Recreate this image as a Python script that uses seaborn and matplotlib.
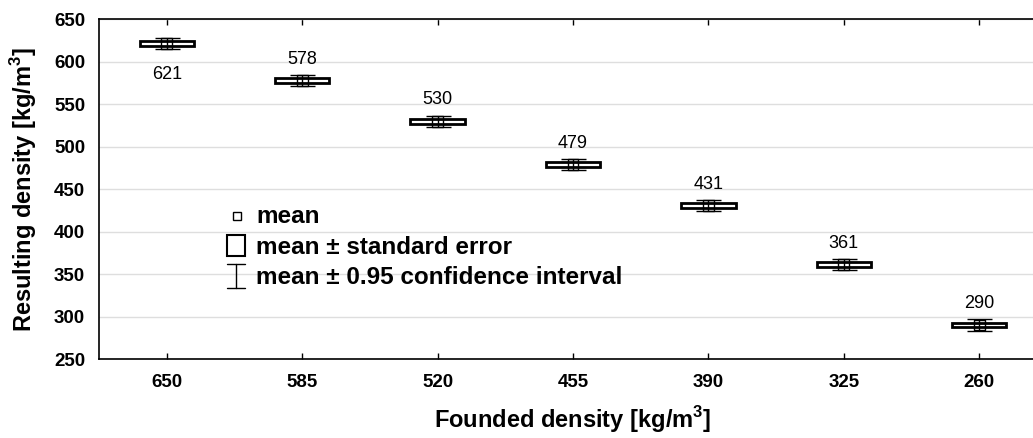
import numpy as np
import pandas as pd
import matplotlib
matplotlib.use("Agg")
import matplotlib.pyplot as plt
from matplotlib.patches import Rectangle
import seaborn as sns

# ---- data ----
categories = ["650", "585", "520", "455", "390", "325", "260"]
means = [621, 578, 530, 479, 431, 361, 290]
std_err = [2.8, 2.8, 2.8, 2.8, 2.8, 2.8, 2.8]
ci95 = [6.5, 6.5, 6.5, 6.5, 6.5, 6.5, 6.5]
label_above = [False, True, True, True, True, True, True]
y_ticks = [250, 300, 350, 400, 450, 500, 550, 600, 650]

sns.set_theme(style="whitegrid")
plt.rcParams["font.family"] = ["Liberation Sans", "DejaVu Sans"]
plt.rcParams["mathtext.fontset"] = "custom"
plt.rcParams["mathtext.rm"] = "Liberation Sans"
plt.rcParams["mathtext.bf"] = "Liberation Sans:bold"
for k in ["text.color", "axes.labelcolor", "xtick.color", "ytick.color"]:
    plt.rcParams[k] = "black"

df = pd.DataFrame({"cat": categories, "mean": means, "se": std_err, "ci": ci95})

fig = plt.figure(figsize=(10.33, 4.38), dpi=100)
ax = fig.add_axes([99 / 1033, 1 - 359 / 438, (1047 - 99) / 1033, (359 - 19.2) / 438])

# CI whiskers with caps
x = np.arange(len(categories))
ax.errorbar(x, df["mean"], yerr=df["ci"], fmt="none", ecolor="black",
            elinewidth=1.0, capsize=9, capthick=1.0, zorder=3)
# SE boxes
for xi, m, s in zip(x, df["mean"], df["se"]):
    ax.add_patch(Rectangle((xi - 0.2, m - s), 0.4, 2 * s, facecolor="white",
                           edgecolor="black", linewidth=2.0, zorder=2))
# mean markers
sns.scatterplot(data=df, x="cat", y="mean", marker="s", s=60, facecolor="none",
                edgecolor="black", linewidth=1.0, ax=ax, zorder=4, legend=False)

# value labels
for xi, m, above in zip(x, df["mean"], label_above):
    off = 12 if above else -25
    ax.annotate(f"{m}", (xi, m), xytext=(0, off), textcoords="offset points",
                ha="center", va="baseline", fontsize=13, color="black")

ax.set_xlim(-0.5, 6.5)
ax.set_ylim(250, 650)
ax.set_yticks(y_ticks)
ax.set_xticks(x)
ax.set_xticklabels(categories)

ax.grid(axis="x", visible=False)
ax.grid(axis="y", color="#dedede", linewidth=1.0)
ax.set_facecolor("white")
for side in ["left", "top", "bottom", "right"]:
    ax.spines[side].set_color("black")
    ax.spines[side].set_linewidth(1.2)

ax.tick_params(axis="x", direction="in", length=4, width=1, color="black",
               top=True, bottom=True, pad=11, labelsize=13.5)
ax.tick_params(axis="y", length=0, pad=10, labelsize=13.5)
for lab in ax.get_xticklabels() + ax.get_yticklabels():
    lab.set_fontweight("bold")

ax.set_xlabel(r"Founded density [kg/m$^{\mathbf{3}}$]", fontsize=17,
              fontweight="bold", labelpad=9)
ax.set_ylabel(r"Resulting density [kg/m$^{\mathbf{3}}$]", fontsize=17,
              fontweight="bold", labelpad=11)

# legend (drawn manually in figure pixel coordinates)
W, H = 1033, 438
def fx(px):
    return px / W
def fy(py):
    return 1 - py / H

fig.add_artist(Rectangle((fx(233), fy(219.5)), 8 / W, 8 / H, transform=fig.transFigure,
                         facecolor="white", edgecolor="black", linewidth=1.0))
fig.add_artist(Rectangle((fx(226.5), fy(256)), 18 / W, 21 / H, transform=fig.transFigure,
                         facecolor="white", edgecolor="black", linewidth=1.5))
fig.add_artist(plt.Line2D([fx(236), fx(236)], [fy(264), fy(288)], transform=fig.transFigure,
                          color="black", linewidth=1.0))
fig.add_artist(plt.Line2D([fx(227), fx(245)], [fy(264), fy(264)], transform=fig.transFigure,
                          color="black", linewidth=1.0))
fig.add_artist(plt.Line2D([fx(227), fx(245)], [fy(288), fy(288)], transform=fig.transFigure,
                          color="black", linewidth=1.0))
legend_texts = ["mean", "mean \u00b1 standard error", "mean \u00b1 0.95 confidence interval"]
legend_y = [223, 254, 284]
for t, py in zip(legend_texts, legend_y):
    fig.text(fx(256), fy(py), t, fontsize=17.5, fontweight="bold", ha="left",
             va="baseline", color="black")

fig.savefig("out.png", dpi=100)
